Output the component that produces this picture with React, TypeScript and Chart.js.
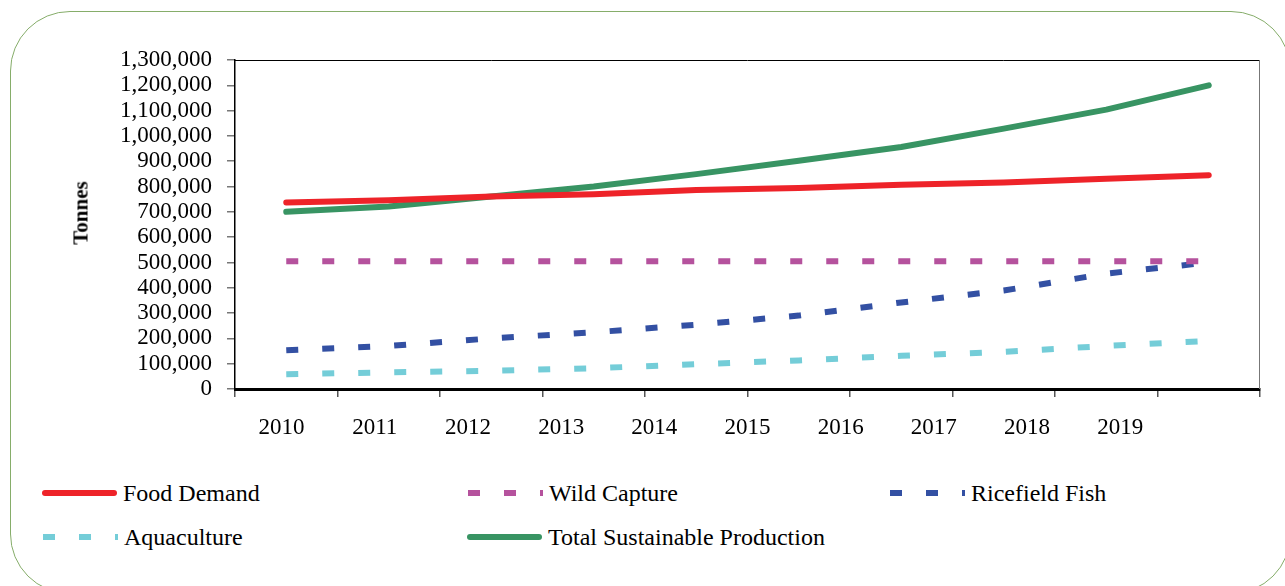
import React, { useEffect, useRef } from "react";
import { Chart, registerables } from "chart.js";

Chart.register(...registerables);

const YEARS = ["2010", "2011", "2012", "2013", "2014", "2015", "2016", "2017", "2018", "2019"];
const AXIS_LABELS = ["2010", "2011", "2012", "2013", "2014", "2015", "2016", "2017", "2018", "2019", ""];

const FOOD_DEMAND = [737000, 746000, 761000, 770000, 786000, 794000, 807000, 816000, 831000, 845000];
const WILD_CAPTURE = [505000, 505000, 505000, 505000, 505000, 505000, 505000, 505000, 505000, 505000];
const RICEFIELD_FISH = [153000, 170000, 200000, 224000, 254000, 290000, 342000, 389000, 456000, 500000];
const AQUACULTURE = [58000, 66000, 72000, 82000, 98000, 113000, 131000, 147000, 170000, 190000];
const TOTAL_SUSTAINABLE = [700000, 721000, 761000, 800000, 849000, 902000, 956000, 1029000, 1104000, 1200000];

const RED = "#ee2329";
const MAGENTA = "#b5529d";
const BLUE = "#3350a3";
const CYAN = "#74cdd8";
const GREEN = "#389463";

const FONT = "'Liberation Serif', 'DejaVu Serif', serif";

const frameBorder = {
  id: "frameBorder",
  afterDatasetsDraw(chart: any) {
    const { ctx, chartArea } = chart;
    ctx.save();
    ctx.lineWidth = 1;
    ctx.strokeStyle = "#000";
    ctx.beginPath();
    ctx.moveTo(chartArea.left, chartArea.top + 0.5);
    ctx.lineTo(chartArea.right, chartArea.top + 0.5);
    ctx.stroke();
    ctx.strokeStyle = "#777";
    ctx.beginPath();
    ctx.moveTo(chartArea.right - 0.5, chartArea.top);
    ctx.lineTo(chartArea.right - 0.5, chartArea.bottom);
    ctx.stroke();
    ctx.restore();
  },
};

function LegendItem(props: { left: number; top: number; color: string; dashed: boolean; label: string }) {
  const { left, top, color, dashed, label } = props;
  return (
    <div style={{ position: "absolute", left, top, height: 30, display: "flex", alignItems: "center", whiteSpace: "nowrap", fontFamily: FONT }}>
      <svg width={75} height={10} style={{ display: "block", marginRight: 6 }}>
        {dashed ? (
          <line x1={0} y1={5} x2={75} y2={5} stroke={color} strokeWidth={6} strokeDasharray="12 24" />
        ) : (
          <line x1={3} y1={5} x2={72} y2={5} stroke={color} strokeWidth={6} strokeLinecap="round" />
        )}
      </svg>
      <span style={{ fontFamily: FONT, fontSize: 24, color: "#000", lineHeight: "30px" }}>{label}</span>
    </div>
  );
}

export default function App() {
  const canvasRef = useRef<HTMLCanvasElement | null>(null);

  useEffect(() => {
    const canvas = canvasRef.current;
    if (!canvas) return;
    const dashedSet = (label: string, data: number[], color: string) => ({
      label,
      data,
      borderColor: color,
      backgroundColor: color,
      borderWidth: 6,
      borderDash: [12, 24],
      borderCapStyle: "butt" as const,
      pointRadius: 0,
      tension: 0,
      fill: false,
    });
    const solidSet = (label: string, data: number[], color: string) => ({
      label,
      data,
      borderColor: color,
      backgroundColor: color,
      borderWidth: 6,
      borderCapStyle: "round" as const,
      borderJoinStyle: "round" as const,
      pointRadius: 0,
      tension: 0,
      fill: false,
    });
    const chart = new Chart(canvas, {
      type: "line",
      data: {
        labels: YEARS,
        datasets: [
          solidSet("Food Demand", FOOD_DEMAND, RED),
          dashedSet("Wild Capture", WILD_CAPTURE, MAGENTA),
          dashedSet("Ricefield Fish", RICEFIELD_FISH, BLUE),
          dashedSet("Aquaculture", AQUACULTURE, CYAN),
          solidSet("Total Sustainable Production", TOTAL_SUSTAINABLE, GREEN),
        ],
      },
      options: {
        animation: false,
        responsive: false,
        devicePixelRatio: 1,
        layout: { padding: { left: 0, top: 60, right: 25, bottom: 23 } },
        plugins: {
          legend: { display: false },
          tooltip: { enabled: false },
          title: { display: false },
        },
        scales: {
          x: {
            type: "category",
            offset: true,
            weight: 0,
            grid: { offset: true, drawOnChartArea: false, drawTicks: true, tickLength: 8, color: "#555", lineWidth: 1.5 },
            border: { display: true, color: "#000", width: 3 },
            ticks: { display: false },
            afterFit: (s: any) => {
              s.height = 8;
            },
          },
          x2: {
            type: "category",
            labels: AXIS_LABELS,
            position: "bottom",
            offset: true,
            weight: 1,
            grid: { display: false, drawTicks: false },
            border: { display: false },
            ticks: {
              color: "#000",
              padding: 17,
              maxRotation: 0,
              autoSkip: false,
              font: { family: FONT, size: 23 },
            },
            afterFit: (s: any) => {
              s.height = 50;
            },
          },
          y: {
            min: 0,
            max: 1300000,
            grid: { drawOnChartArea: false, drawTicks: true, tickLength: 8, color: "#777", lineWidth: 1.5 },
            border: { display: true, color: "#000", width: 1.5 },
            ticks: {
              stepSize: 100000,
              autoSkip: false,
              padding: 15,
              color: "#000",
              font: { family: FONT, size: 23 },
              callback: (v: any) => Number(v).toLocaleString("en-US"),
            },
            afterFit: (s: any) => {
              s.width = 235;
            },
          },
        },
      },
      plugins: [frameBorder],
    });
    return () => chart.destroy();
  }, []);

  return (
    <div style={{ position: "fixed", left: 0, top: 0, width: 1285, height: 586, overflow: "hidden", background: "#fff", fontFamily: FONT }}>
      <div
        style={{
          position: "absolute",
          left: 10,
          top: 11,
          width: 1281,
          height: 583,
          boxSizing: "border-box",
          border: "1.5px solid #86ad6a",
          borderRadius: 60,
        }}
      />
      <canvas ref={canvasRef} width={1285} height={470} style={{ position: "absolute", left: 0, top: 0, width: 1285, height: 470 }} />
      <div
        style={{
          position: "absolute",
          left: 81,
          top: 213,
          transform: "translate(-50%, -50%) rotate(-90deg)",
          fontFamily: FONT,
          fontWeight: "bold",
          fontSize: 21,
          whiteSpace: "nowrap",
          color: "#000",
        }}
      >
        Tonnes
      </div>
      <LegendItem left={42} top={478} color={RED} dashed={false} label="Food Demand" />
      <LegendItem left={468} top={478} color={MAGENTA} dashed={true} label="Wild Capture" />
      <LegendItem left={890} top={478} color={BLUE} dashed={true} label="Ricefield Fish" />
      <LegendItem left={43} top={522} color={CYAN} dashed={true} label="Aquaculture" />
      <LegendItem left={467} top={522} color={GREEN} dashed={false} label="Total Sustainable Production" />
    </div>
  );
}
